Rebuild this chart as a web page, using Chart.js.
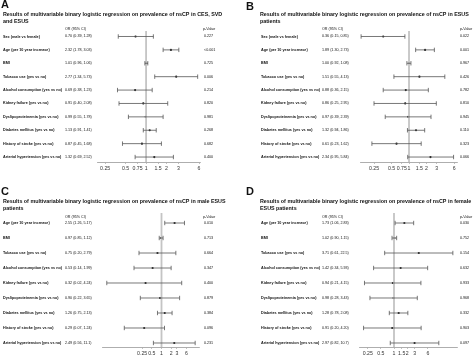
<!DOCTYPE html>
<html><head><meta charset="utf-8">
<script src="https://cdn.jsdelivr.net/npm/chart.js@4.4.1/dist/chart.umd.min.js"></script>
<style>
html,body{margin:0;padding:0;background:#fff;}
#wrap{position:relative;width:474px;height:355px;overflow:hidden;background:#fff;}
canvas{position:absolute;}
</style></head><body>
<div id="wrap">
<canvas id="cA" width="237" height="178" style="left:0;top:0"></canvas>
<canvas id="cB" width="237" height="178" style="left:237px;top:0"></canvas>
<canvas id="cC" width="237" height="177" style="left:0;top:178px"></canvas>
<canvas id="cD" width="237" height="177" style="left:237px;top:178px"></canvas>
</div>
<script>
// ---------- data ----------
const labelsAB = ["Sex (male vs female)","Age (per 10 year increase)","BMI","Tobacco use (yes vs no)","Alcohol consumption (yes vs no)","Kidney failure (yes vs no)","Dyslipoproteinemia (yes vs no)","Diabetes mellitus (yes vs no)","History of stroke (yes vs no)","Arterial hypertension (yes vs no)"];
const labelsCD = ["Age (per 10 year increase)","BMI","Tobacco use (yes vs no)","Alcohol consumption (yes vs no)","Kidney failure (yes vs no)","Dyslipoproteinemia (yes vs no)","Diabetes mellitus (yes vs no)","History of stroke (yes vs no)","Arterial hypertension (yes vs no)"];

const titleA = ["Results of multivariable binary logistic regression on prevalence of nsCP in CES, SVD","and ESUS"];
const titleB = ["Results of multivariable binary logistic regression on prevalence of nsCP in ESUS","patients"];
const titleC = ["Results of multivariable binary logistic regression on prevalence of nsCP in male ESUS","patients"];
const titleD = ["Results of multivariable binary logistic regression on prevalence of nsCP in female","ESUS patients"];

const orA = [0.70,2.32,1.01,2.77,0.69,0.91,0.99,1.13,0.87,1.32];
const loA = [0.39,1.78,0.96,1.34,0.38,0.40,0.55,0.91,0.45,0.69];
const hiA = [1.28,3.03,1.06,5.73,1.23,2.08,1.78,1.41,1.68,2.52];
const pA  = ["0.227","<0.001","0.725","0.006","0.214","0.820","0.981","0.268","0.682","0.400"];

const orB = [0.36,1.89,1.00,1.51,0.88,0.86,0.97,1.32,0.61,2.34];
const loB = [0.15,1.30,0.92,0.55,0.36,0.25,0.39,0.94,0.23,0.95];
const hiB = [0.85,2.73,1.08,4.13,2.15,2.95,2.39,1.86,1.62,5.84];
const pB  = ["0.022","0.001","0.967","0.426","0.782","0.810","0.945","0.110","0.323","0.066"];

const orC = [2.55,0.97,0.75,0.53,0.32,0.90,1.26,0.29,2.49];
const loC = [1.26,0.85,0.20,0.14,0.02,0.22,0.75,0.07,0.56];
const hiC = [5.17,1.12,2.79,1.99,4.24,3.65,2.13,1.24,11.1];
const pC  = ["0.010","0.713","0.664","0.347","0.400","0.879","0.384","0.096","0.231"];

const orD = [1.73,1.02,3.71,1.42,0.94,0.98,1.28,0.91,2.97];
const loD = [1.06,0.90,0.61,0.34,0.21,0.28,0.78,0.20,0.82];
const hiD = [2.83,1.15,22.5,5.93,4.15,3.43,2.08,4.20,10.7];
const pD  = ["0.030","0.752","0.154","0.632","0.933","0.968","0.332","0.903","0.097"];

const ticksA = [0.25,0.5,0.75,1,1.5,2,3,6];
const ticksB = [0.25,0.5,0.75,1,1.5,2,3,6];
const ticksC = [0.25,0.5,1,2,3,6];
const ticksD = [0.25,0.5,1,1.5,2,3,6];

// ---------- helpers ----------
const FAM = '"Liberation Sans", Arial, sans-serif';
const mctx = document.createElement('canvas').getContext('2d');
function fit(text, weight, w){ mctx.font = weight + ' 20px ' + FAM; return 20 * w / mctx.measureText(text).width; }
const titleSize = fit(titleA[0], 'bold', 220);
const labelSize = fit("Alcohol consumption (yes vs no)", 'bold', 59);
const numSize = fit('0.69 (0.38, 1.23)', 'normal', 27);
function fmt(v){ return v >= 10 ? v.toFixed(1) : v.toFixed(2); }

function makePanel(id, c){
  const whiskers = {
    id: 'whiskers',
    afterDatasetDraw(chart, args){
      if (args.index !== 0) return;
      const x = chart.scales.x, y = chart.scales.y, ctx = chart.ctx;
      ctx.save();
      ctx.strokeStyle = '#555'; ctx.lineWidth = 0.8;
      c.or.forEach((v, i) => {
        const yy = y.getPixelForValue(i);
        const x1 = x.getPixelForValue(c.lo[i]), x2 = x.getPixelForValue(c.hi[i]);
        ctx.beginPath();
        ctx.moveTo(x1, yy); ctx.lineTo(x2, yy);
        ctx.moveTo(x1, yy - 2.2); ctx.lineTo(x1, yy + 2.2);
        ctx.moveTo(x2, yy - 2.2); ctx.lineTo(x2, yy + 2.2);
        ctx.stroke();
      });
      ctx.restore();
    }
  };
  const texts = {
    id: 'texts',
    afterDraw(chart){
      const ctx = chart.ctx, y = chart.scales.y;
      ctx.save();
      ctx.fillStyle = '#111';
      ctx.textBaseline = 'alphabetic';
      ctx.font = 'bold 11px ' + FAM;
      ctx.fillText(c.letter, c.letterX, c.letterY);
      ctx.textBaseline = 'middle';
      ctx.font = 'bold ' + titleSize + 'px ' + FAM;
      ctx.fillText(c.title[0], c.titleX, c.titleY[0]);
      ctx.fillText(c.title[1], c.titleX, c.titleY[1]);
      ctx.font = numSize + 'px ' + FAM;
      ctx.fillText('OR (95% CI)', c.orX, c.headerY);
      ctx.fillText('p-Value', c.pHeadX, c.headerY);
      c.labels.forEach((lab, i) => {
        const yy = y.getPixelForValue(i);
        ctx.font = 'bold ' + labelSize + 'px ' + FAM;
        ctx.fillText(lab, c.labelX, yy);
        ctx.font = numSize + 'px ' + FAM;
        ctx.fillText(fmt(c.or[i]) + ' (' + fmt(c.lo[i]) + ', ' + fmt(c.hi[i]) + ')', c.orX, yy);
        ctx.fillText(c.p[i], c.pX, yy);
      });
      ctx.restore();
    }
  };
  return new Chart(document.getElementById(id), {
    type: 'scatter',
    data: {
      datasets: [
        { type: 'line', data: [{x: 1, y: c.yMin}, {x: 1, y: c.yMax}], borderColor: '#c4c4c4', borderWidth: 1.8, pointRadius: 0, fill: false },
        { data: c.or.map((v, i) => ({x: v, y: i})), pointRadius: 1.1, pointBackgroundColor: '#111', pointBorderWidth: 0 }
      ]
    },
    options: {
      responsive: false, animation: false, events: [],
      layout: { padding: { left: c.left, right: c.right, top: c.top, bottom: 0 } },
      plugins: { legend: { display: false }, tooltip: { enabled: false } },
      scales: {
        x: {
          type: 'logarithmic', min: c.xMin, max: c.xMax,
          afterBuildTicks(scale){ scale.ticks = c.ticks.map(v => ({ value: v })); },
          afterFit(scale){ scale.height = c.axisH; },
          ticks: { autoSkip: false, maxRotation: 0, padding: 1, color: '#333', font: { family: FAM, size: 5.2 }, callback: v => String(v) },
          grid: { drawOnChartArea: false, drawTicks: true, tickLength: 2, color: '#999', lineWidth: 0.6 },
          border: { display: true, color: '#999', width: 0.8 }
        },
        y: { type: 'linear', reverse: true, min: c.yMin, max: c.yMax, display: false }
      }
    },
    plugins: [whiskers, texts]
  });
}

makePanel('cA', { letter: 'A', letterX: 1, letterY: 8, title: titleA, titleX: 3, titleY: [15, 22], headerY: 29,
  labelX: 3, orX: 65, pX: 204, pHeadX: 203, labels: labelsAB, or: orA, lo: loA, hi: hiA, p: pA, ticks: ticksA,
  xMin: 0.19, xMax: 6.2, yMin: -0.41, yMax: 9.37, left: 97, right: 37, top: 31, axisH: 16 });
makePanel('cB', { letter: 'B', letterX: 9, letterY: 10, title: titleB, titleX: 23, titleY: [15, 22], headerY: 29,
  labelX: 24, orX: 85, pX: 223, pHeadX: 223, labels: labelsAB, or: orB, lo: loB, hi: hiB, p: pB, ticks: ticksB,
  xMin: 0.1436, xMax: 6.69, yMin: -0.41, yMax: 9.37, left: 123, right: 17, top: 31, axisH: 16 });
makePanel('cC', { letter: 'C', letterX: 1, letterY: 17, title: titleC, titleX: 3, titleY: [24, 30.5], headerY: 39,
  labelX: 3, orX: 65, pX: 204, pHeadX: 203, labels: labelsCD, or: orC, lo: loC, hi: hiC, p: pC, ticks: ticksC,
  xMin: 0.0142, xMax: 14.6, yMin: -0.667, yMax: 8.267, left: 102, right: 38, top: 35, axisH: 8 });
makePanel('cD', { letter: 'D', letterX: 9, letterY: 17, title: titleD, titleX: 23, titleY: [24, 30.5], headerY: 39,
  labelX: 24, orX: 85, pX: 223, pHeadX: 223, labels: labelsCD, or: orD, lo: loD, hi: hiD, p: pD, ticks: ticksD,
  xMin: 0.157, xMax: 28.0, yMin: -0.667, yMax: 8.267, left: 122, right: 17, top: 35, axisH: 8 });
</script>
</body></html>
